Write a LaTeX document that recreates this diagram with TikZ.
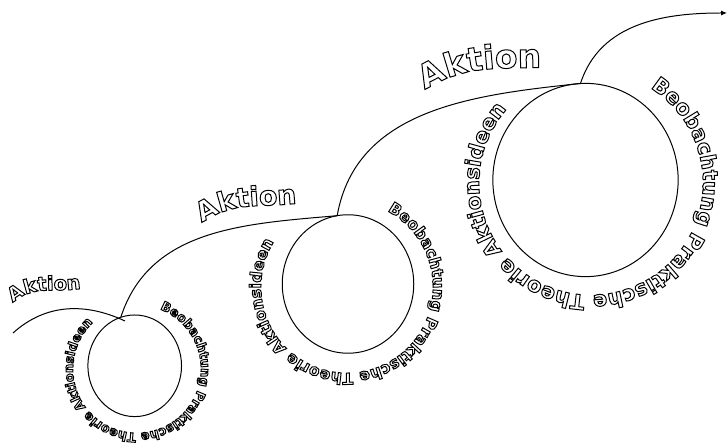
\documentclass[tikz,border=0pt]{standalone}
\usepackage{fontspec}
\newfontfamily\dvbold{DejaVu Sans Bold}
\usetikzlibrary{decorations.text,arrows.meta,shapes.geometric}
\newcommand\txtsize[1]{\dvbold\fontsize{#1}{#1}\selectfont}
\begin{document}
\begin{tikzpicture}[x=1bp,y=1bp,line width=1pt,
  ring/.style={draw,ellipse,inner sep=0pt,outer sep=0pt},
  link/.style={draw},
  ringtext/.style 2 args={line width=1.1pt,decorate,decoration={text along path,
     text={|\txtsize{#1}|#2}}},
]
\useasboundingbox (0,0) rectangle (728,448);
% all text is drawn as outlines
\special{pdf:literal direct 1 Tr}
% circles
\node[ring,minimum width=94,minimum height=102] (s) at (134.7,82.2) {};
\node[ring,minimum width=132,minimum height=139] (m) at (348,164) {};
\node[ring,minimum width=186,minimum height=194] (l) at (585.5,268) {};
% connection points
\coordinate (a0) at (13,115);
\coordinate (a1) at (125,127);
\coordinate (ps) at (s.106);
\coordinate (pm) at (m.99);
\coordinate (pl) at (l.93);
\coordinate (e) at (727,435);
% connectors
\draw[link] (a0) to[out=42,in=155] (a1);
\draw[link] (ps) to[out=72,in=185] (pm);
\draw[link] (pm) to[out=80,in=186] (pl);
\draw[link,-{Latex[length=6pt,width=5pt]}] (pl) to[out=72,in=180] (e);
% ring texts
\path[ringtext={12.7}{Beobachtung Praktische Theorie Aktionsideen}]
  (137,79) ++(69:64) arc[start angle=69,end angle=-280,radius=64];
\path[ringtext={15.8}{Beobachtung Praktische Theorie Aktionsideen}]
  (347,161) ++(62:86) arc[start angle=62,end angle=-280,radius=86];
\path[ringtext={21}{Beobachtung Praktische Theorie Aktionsideen}]
  (591,265) ++(58:112) arc[start angle=58,end angle=-280,radius=112];
% Aktion texts
\path[ringtext={19.5}{Aktion}] (13,145) to[out=42,in=195] (88,161);
\path[ringtext={27}{Aktion}] (202,225) to[out=35,in=190] (306,246);
\path[ringtext={33}{Aktion}] (425,358) to[out=32,in=183] (552,381);
\end{tikzpicture}
\end{document}
